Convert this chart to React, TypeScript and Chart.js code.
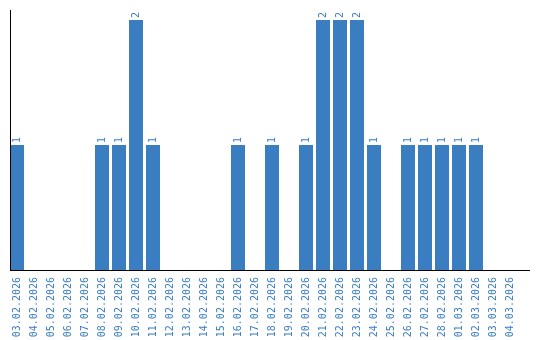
import React, { useEffect, useRef } from 'react';
import { Chart, registerables } from 'chart.js';

Chart.register(...registerables);

const categories: string[] = [
  '03.02.2026', '04.02.2026', '05.02.2026', '06.02.2026', '07.02.2026',
  '08.02.2026', '09.02.2026', '10.02.2026', '11.02.2026', '12.02.2026',
  '13.02.2026', '14.02.2026', '15.02.2026', '16.02.2026', '17.02.2026',
  '18.02.2026', '19.02.2026', '20.02.2026', '21.02.2026', '22.02.2026',
  '23.02.2026', '24.02.2026', '25.02.2026', '26.02.2026', '27.02.2026',
  '28.02.2026', '01.03.2026', '02.03.2026', '03.03.2026', '04.03.2026',
];

const values: number[] = [
  1, 0, 0, 0, 0,
  1, 1, 2, 1, 0,
  0, 0, 0, 1, 0,
  1, 0, 1, 2, 2,
  2, 1, 0, 1, 1,
  1, 1, 1, 0, 0,
];

const yMax = 2.08;
const BLUE = '#3a7dc1';

export default function App() {
  const ref = useRef<HTMLCanvasElement>(null);

  useEffect(() => {
    document.body.style.margin = '0';
    const canvas = ref.current;
    if (!canvas) return;

    const valueLabels = {
      id: 'valueLabels',
      afterDatasetsDraw(chart: any) {
        const ctx = chart.ctx;
        const meta = chart.getDatasetMeta(0);
        ctx.save();
        ctx.fillStyle = BLUE;
        ctx.font = '10px "DejaVu Sans Mono"';
        meta.data.forEach((bar: any, i: number) => {
          const v = values[i];
          if (!v) return;
          ctx.save();
          ctx.translate(bar.x, bar.y - 2);
          ctx.rotate(-Math.PI / 2);
          ctx.textAlign = 'left';
          ctx.textBaseline = 'middle';
          ctx.fillText(String(v), 0, 0);
          ctx.restore();
        });
        ctx.restore();
      },
    };

    const axisLines = {
      id: 'axisLines',
      afterDraw(chart: any) {
        const ctx = chart.ctx;
        const a = chart.chartArea;
        ctx.save();
        ctx.strokeStyle = '#000';
        ctx.lineWidth = 1;
        ctx.beginPath();
        const x0 = Math.round(a.left) + 1.5;
        const yb = Math.round(a.bottom) + 0.5;
        ctx.moveTo(x0, Math.round(a.top));
        ctx.lineTo(x0, yb);
        ctx.moveTo(x0 - 0.5, yb);
        ctx.lineTo(530, yb);
        ctx.stroke();
        ctx.restore();
      },
    };

    const chart = new Chart(canvas, {
      type: 'bar',
      data: {
        labels: categories,
        datasets: [
          {
            data: values,
            backgroundColor: BLUE,
            borderWidth: 0,
            barPercentage: 1,
            categoryPercentage: 14 / 17,
          },
        ],
      },
      options: {
        responsive: false,
        animation: false,
        devicePixelRatio: 1,
        layout: { padding: { top: 10, left: 8.5, right: 21.5, bottom: 0 } },
        plugins: {
          legend: { display: false },
          tooltip: { enabled: false },
        },
        scales: {
          x: {
            offset: true,
            grid: { display: false, drawTicks: false },
            border: { display: false },
            ticks: {
              autoSkip: false,
              minRotation: 90,
              maxRotation: 90,
              padding: 7,
              color: BLUE,
              font: { family: 'DejaVu Sans Mono', size: 10 },
            },
            afterFit(scale: any) {
              scale.height = 70;
            },
          },
          y: {
            display: false,
            min: 0,
            max: yMax,
          },
        },
      },
      plugins: [valueLabels, axisLines],
    });

    return () => chart.destroy();
  }, []);

  return <canvas ref={ref} width={540} height={340} style={{ display: 'block' }} />;
}
